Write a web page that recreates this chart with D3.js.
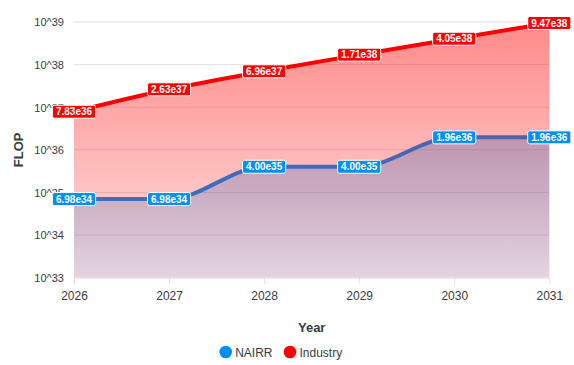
<!DOCTYPE html>
<html><head><meta charset="utf-8">
<script src="https://cdn.jsdelivr.net/npm/d3@7"></script>
<style>body{margin:0;background:#fff}svg{display:block;font-family:"Liberation Sans",Arial,sans-serif}</style>
</head><body>
<script>
const years = [2026, 2027, 2028, 2029, 2030, 2031];
const nairr = [6.98e34, 6.98e34, 4.00e35, 4.00e35, 1.96e36, 1.96e36];
const industry = [7.83e36, 2.63e37, 6.96e37, 1.71e38, 4.05e38, 9.47e38];
const nairrLabels = ["6.98e34","6.98e34","4.00e35","4.00e35","1.96e36","1.96e36"];
const industryLabels = ["7.83e36","2.63e37","6.96e37","1.71e38","4.05e38","9.47e38"];
const yTicks = [1e33,1e34,1e35,1e36,1e37,1e38,1e39];
const yTickLabels = ["10^33","10^34","10^35","10^36","10^37","10^38","10^39"];
const seriesNames = ["NAIRR","Industry"];

const W=574,H=365;
const svg=d3.select("body").append("svg").attr("width",W).attr("height",H);
const x=d3.scaleLinear().domain([2026,2031]).range([74,549.3]);
const y=d3.scaleLog().domain([1e33,1e39]).range([277.6,22]);
const txt="#373d3f";

const defs=svg.append("defs");
function grad(id,color,y1,y2,o1,o2){
  const g=defs.append("linearGradient").attr("id",id).attr("gradientUnits","userSpaceOnUse")
    .attr("x1",0).attr("x2",0).attr("y1",y1).attr("y2",y2);
  g.append("stop").attr("offset",0).attr("stop-color",color).attr("stop-opacity",o1);
  g.append("stop").attr("offset",1).attr("stop-color",color).attr("stop-opacity",o2);
}
grad("gb","#008FFB",y(d3.max(nairr)),y(1e33),0.36,0.12);
grad("gr","#FF0000",y(d3.max(industry)),y(1e33),0.46,0.12);

// grid
svg.append("g").selectAll("line").data(yTicks.slice(1)).join("line")
  .attr("x1",74).attr("x2",549.3).attr("y1",d=>y(d)).attr("y2",d=>y(d))
  .attr("stroke","#e0e0e0").attr("stroke-width",1);

// y axis labels
const ya=d3.axisLeft(y).tickValues(yTicks).tickFormat((d,i)=>yTickLabels[i]).tickSize(0).tickPadding(0);
const yg=svg.append("g").attr("transform","translate(64,0)").call(ya);
yg.select(".domain").remove();
yg.selectAll("text").attr("font-size",11).attr("fill",txt).attr("font-family","Liberation Sans, Arial, sans-serif").attr("dy","0.35em");

// x axis
const xa=d3.axisBottom(x).tickValues(years).tickFormat(d3.format("d")).tickSize(6).tickPadding(8);
const xg=svg.append("g").attr("transform","translate(0,277.6)").call(xa);
xg.select(".domain").attr("stroke","#e0e0e0").attr("d","M74,0.5H549.3");
xg.selectAll(".tick line").attr("stroke","#e0e0e0");
xg.selectAll("text").attr("font-size",12).attr("fill",txt).attr("font-family","Liberation Sans, Arial, sans-serif");

const curve=d3.curveMonotoneX;
const area=d3.area().x((d,i)=>x(years[i])).y0(y(1e33)).y1(d=>y(d)).curve(curve);
const line=d3.line().x((d,i)=>x(years[i])).y(d=>y(d)).curve(curve);

svg.append("path").datum(nairr).attr("d",area).attr("fill","url(#gb)");
svg.append("path").datum(nairr).attr("d",line).attr("fill","none").attr("stroke","#008FFB").attr("stroke-width",4);
svg.append("path").datum(industry).attr("d",area).attr("fill","url(#gr)");
svg.append("path").datum(industry).attr("d",line).attr("fill","none").attr("stroke","#FF0000").attr("stroke-width",4);

function labels(vals,labs,color){
  const g=svg.append("g");
  vals.forEach((v,i)=>{
    const cx=x(years[i]), cy=y(v);
    const gg=g.append("g").attr("transform",`translate(${cx},${cy})`);
    const r=gg.append("rect");
    const t=gg.append("text").text(labs[i]).attr("text-anchor","middle").attr("dy","0.36em")
      .attr("font-size",10).attr("font-weight","bold").attr("fill","#fff");
    const w=t.node().getComputedTextLength()+7;
    r.attr("x",-w/2).attr("y",-6.5).attr("width",w).attr("height",13).attr("rx",2)
      .attr("fill",color).attr("stroke","#fff").attr("stroke-width",1);
  });
}
labels(nairr,nairrLabels,"#008FFB");
labels(industry,industryLabels,"#FF0000");

// titles
svg.append("text").attr("x",311.7).attr("y",332).attr("text-anchor","middle")
  .attr("font-size",13).attr("font-weight","bold").attr("fill",txt).text("Year");
svg.append("text").attr("transform","translate(23,149.8) rotate(-90)").attr("text-anchor","middle")
  .attr("font-size",13).attr("font-weight","bold").attr("fill",txt).text("FLOP");

// legend
const legColors=["#008FFB","#FF0000"];
const legX=[225.7,290];
seriesNames.forEach((n,i)=>{
  svg.append("circle").attr("cx",legX[i]).attr("cy",352).attr("r",6.3).attr("fill",legColors[i]);
  svg.append("text").attr("x",legX[i]+9.5).attr("y",356.5).attr("font-size",12).attr("fill",txt).text(n);
});
</script>
</body></html>
